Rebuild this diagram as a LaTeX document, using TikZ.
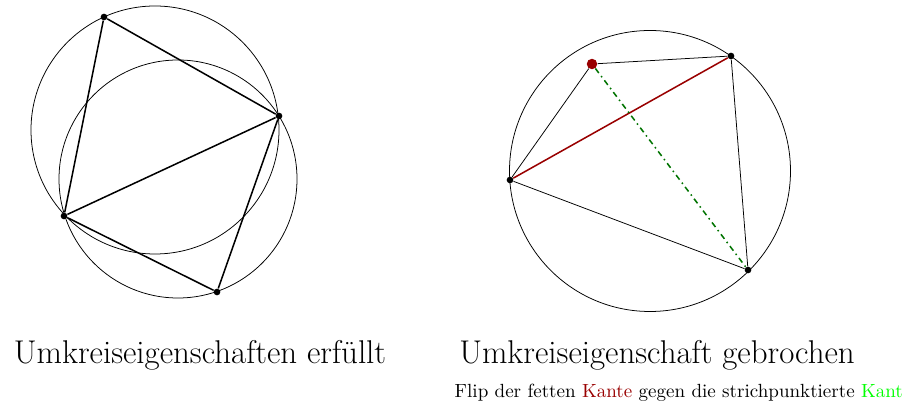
\documentclass[tikz,border=0pt]{standalone}
\usetikzlibrary{positioning}
\definecolor{darkred}{rgb}{0.6,0,0}
\definecolor{darkgreen}{rgb}{0,0.45,0}
\tikzset{
  punkt/.style={circle, fill=black, inner sep=0pt, minimum size=3.5pt},
  kante/.style={thick},
  flipkante/.style={thick, draw=darkred},
  neukante/.style={thick, dash dot, draw=darkgreen},
}
\begin{document}
\begin{tikzpicture}[x=0.525pt, y=-0.525pt]
        \useasboundingbox (0,0) rectangle (903,407);

        % Umkreis erfuellt
        \node[punkt] (a) at (104,17) {};
        \node[punkt] (b) at (279,116) {};
        \node[punkt] (c) at (64,216) {};
        \node[punkt] (d) at (217,292) {};
        \draw (155,130) circle (124);
        \draw (178,179) circle (119);
        \draw[kante] (a) -- (b) -- (c) -- (a);
        \draw[kante] (b) -- (d) -- (c);

        % Umkreis gebrochen
        \node[punkt] (p) at (510,180) {};
        \node[punkt, fill=darkred, minimum size=5.5pt] (q) at (592,64) {};
        \node[punkt] (r) at (731,56) {};
        \node[punkt] (s) at (748,270) {};
        \draw (650,171) circle (140.5);
        \draw (p) -- (q) -- (r) -- (s) -- (p);
        \draw[flipkante] (p) -- (r);
        \draw[neukante] (q) -- (s);

        % Beschriftung
        \node[font=\LARGE] (t1) at (200,355) {Umkreiseigenschaften erfüllt};
        \node[font=\LARGE] (t2) at (657,355) {Umkreiseigenschaft gebrochen};
        \node[anchor=west] (t3) at (448,393) {Flip der fetten \textcolor{darkred}{Kante} gegen die strichpunktierte \textcolor{green}{Kant}};
\end{tikzpicture}
\end{document}
